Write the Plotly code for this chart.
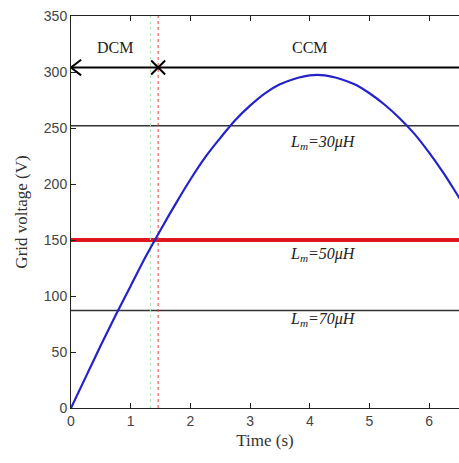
import plotly.graph_objects as go

# Grid voltage waveform
time_s = [0, 0.25, 0.5, 0.75, 1.0, 1.25, 1.5, 1.75, 2.0, 2.25, 2.5, 2.75, 3.0, 3.25,
          3.5, 3.75, 4.0, 4.25, 4.5, 4.75, 5.0, 5.25, 5.5, 5.75, 6.0, 6.25, 6.5, 6.6]
voltage_v = [0, 28, 56, 83, 109, 135, 159, 182, 204, 224, 241, 257, 270, 281,
             289, 294, 297, 297, 294, 289, 281, 271, 259, 245, 228, 209, 188, 180]

# Threshold lines
lm_labels = ["<i>L<sub>m</sub>=30μH</i>", "<i>L<sub>m</sub>=50μH</i>", "<i>L<sub>m</sub>=70μH</i>"]
lm_levels = [252, 150, 87]
lm_label_y = [237, 137, 79]
lm_colors = ["#333333", "#e0161e", "#333333"]
lm_widths = [1.6, 4, 1.6]

boundary_t = 1.46
boundary_green_t = 1.33
mode_level = 304
mode_names = ["DCM", "CCM"]
mode_label_t = [0.74, 4.0]
mode_label_v = [322, 322]

x_max = 6.5
x_ticks = [0, 1, 2, 3, 4, 5, 6]
y_ticks = [0, 50, 100, 150, 200, 250, 300, 350]

# arrowhead glyph size (style, in data units)
head_dx = 0.17
head_dy = 7

fig = go.Figure()

# threshold horizontal lines
for lvl, col, w in zip(lm_levels, lm_colors, lm_widths):
    fig.add_trace(go.Scatter(x=[0, x_max], y=[lvl, lvl], mode="lines",
                             line=dict(color=col, width=w), showlegend=False, hoverinfo="skip"))

# vertical boundary lines
fig.add_trace(go.Scatter(x=[boundary_green_t, boundary_green_t], y=[0, 350], mode="lines",
                         line=dict(color="#b5e3b5", width=1, dash="dot"), showlegend=False))
fig.add_trace(go.Scatter(x=[boundary_t, boundary_t], y=[0, 350], mode="lines",
                         line=dict(color="#e04040", width=1, dash="dot"), showlegend=False))

# mode arrow line
fig.add_trace(go.Scatter(x=[0, x_max], y=[mode_level, mode_level], mode="lines",
                         line=dict(color="black", width=2), showlegend=False))
# left arrowhead "<" at t=0
fig.add_trace(go.Scatter(x=[head_dx, 0, head_dx],
                         y=[mode_level + head_dy, mode_level, mode_level - head_dy],
                         mode="lines", line=dict(color="black", width=2), showlegend=False))
# "X" where the DCM and CCM arrows meet
fig.add_trace(go.Scatter(x=[boundary_t], y=[mode_level], mode="markers",
                         marker=dict(symbol="x-thin-open", size=14, color="black",
                                     line=dict(color="black", width=2)),
                         showlegend=False))

# waveform
fig.add_trace(go.Scatter(x=time_s, y=voltage_v, mode="lines",
                         line=dict(color="#2323c8", width=2.2, shape="spline"),
                         showlegend=False))

serif = "Liberation Serif, Times New Roman, serif"
for lab, yl in zip(lm_labels, lm_label_y):
    fig.add_annotation(x=4.22, y=yl, text=lab, showarrow=False,
                       font=dict(family=serif, size=16, color="#222222"))
for name, tx, vy in zip(mode_names, mode_label_t, mode_label_v):
    fig.add_annotation(x=tx, y=vy, text=name, showarrow=False,
                       font=dict(family=serif, size=16, color="#222222"))

fig.update_layout(
    width=459, height=463,
    margin=dict(l=71, r=0, t=16, b=55),
    paper_bgcolor="white", plot_bgcolor="white",
    xaxis=dict(range=[0, x_max], tickvals=x_ticks, showgrid=False, zeroline=False,
               showline=True, linecolor="#222222", linewidth=1, mirror="ticks",
               ticks="inside", ticklen=5, tickcolor="#222222",
               tickfont=dict(family="Liberation Sans, Arial", size=14, color="#444444"),
               title=dict(text="Time (s)", font=dict(family=serif, size=17, color="#333333"),
                          standoff=6)),
    yaxis=dict(range=[0, 350], tickvals=y_ticks, showgrid=False, zeroline=False,
               showline=True, linecolor="#222222", linewidth=1, mirror=False,
               ticks="inside", ticklen=5, tickcolor="#222222",
               tickfont=dict(family="Liberation Sans, Arial", size=14, color="#444444"),
               title=dict(text="Grid voltage (V)", font=dict(family=serif, size=17, color="#333333"),
                          standoff=11)),
)

fig.write_html("out.html")
